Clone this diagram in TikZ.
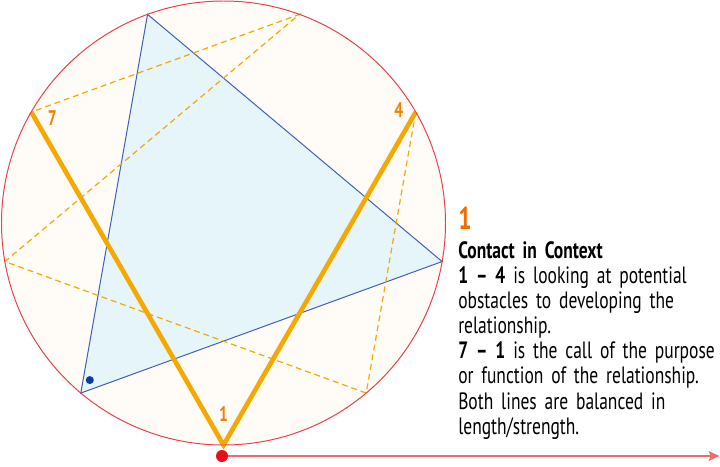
\documentclass[tikz,border=0pt]{standalone}
\usepackage{fontspec}
\setmainfont[FakeStretch=0.74]{PT Sans}
\usetikzlibrary{arrows.meta,positioning}

\definecolor{ringred}{HTML}{E8404A}
\definecolor{ringfill}{HTML}{FFFBF6}
\definecolor{trifill}{HTML}{E5F5FA}
\definecolor{triblue}{HTML}{3D5FB5}
\definecolor{dotblue}{HTML}{0B3D99}
\definecolor{lineorange}{HTML}{F5A800}
\definecolor{labelorange}{HTML}{EC8200}
\definecolor{titleorange}{HTML}{F26A00}
\definecolor{dotred}{HTML}{E8101A}
\definecolor{arrowred}{HTML}{F06A70}
\newcommand{\tightspaces}{\spaceskip=2.4pt plus 1pt\relax}

\begin{document}
\begin{tikzpicture}[x=0.025cm, y=0.025cm,
    num/.style={text=labelorange, inner sep=0pt,
      font=\bfseries\fontsize{15}{15}\selectfont},
    dashline/.style={lineorange, line width=0.85pt, dash pattern=on 4.2pt off 2.8pt},
    thickline/.style={lineorange, line width=3.3pt, line join=miter},
    bluedot/.style={circle, fill=dotblue, inner sep=0pt, minimum size=0.2cm},
    reddot/.style={circle, fill=dotred, inner sep=0pt, minimum size=0.3cm},
    title/.style={text=titleorange, inner sep=0pt,
      font=\bfseries\fontsize{22.5}{22.5}\selectfont},
    body/.style={inner sep=0pt, align=left, text width=7cm,
      font=\fontsize{16.8}{17.85}\selectfont\tightspaces}]
  \useasboundingbox (-223.5,-243) rectangle (496.5,223);
  % ==== CIRCLE ====
  \fill[ringfill] (0,0) circle (222);
  \foreach \k in {1,...,9}
    \coordinate (p\k) at ({-90+(\k-1)*40}:222);
  % ==== TRIANGLE 3-6-9 ====
  \filldraw[fill=trifill, draw=triblue, line width=0.7pt] (p3) -- (p6) -- (p9) -- cycle;
  \node[bluedot] (d9) at ([shift={(9,13)}]p9) {};
  % ==== DASHED LINES ====
  \draw[dashline] (p4) -- (p2) -- (p8) -- (p5) -- (p7);
  % ==== 7-1 AND 1-4 ====
  \draw[thickline] (p7) -- (p1) -- (p4);
  \draw[ringred, line width=0.7pt] (0,0) circle (222);
  \node[num] (n7) at ([shift={(21,-6)}]p7) {7};
  \node[num] (n4) at ([shift={(-17,2)}]p4) {4};
  \node[num] (n1) at ([shift={(0,31)}]p1) {1};
  % ==== START ====
  \node[reddot] (start) at ([shift={(-1.5,-11)}]p1) {};
  \coordinate (end) at (496,-233);
  \draw[arrowred, line width=1.2pt, -{Stealth[length=0.27cm, width=0.24cm, inset=0.05cm]}]
    (start) -- (end);
  % ==== TEXT ====
  \node[title, anchor=base west] (title) at (234.5,-6) {1};
  \node[body, below right=0.3cm and 0cm of title.south west] (info)
    {\textbf{Contact in Context}\\
     \textbf{1 – 4} is looking at potential\\
     obstacles to developing the\\
     relationship.\\
     \textbf{7 – 1} is the call of the purpose\\
     or function of the relationship.\\
     Both lines are balanced in\\
     length/strength.};
\end{tikzpicture}
\end{document}
